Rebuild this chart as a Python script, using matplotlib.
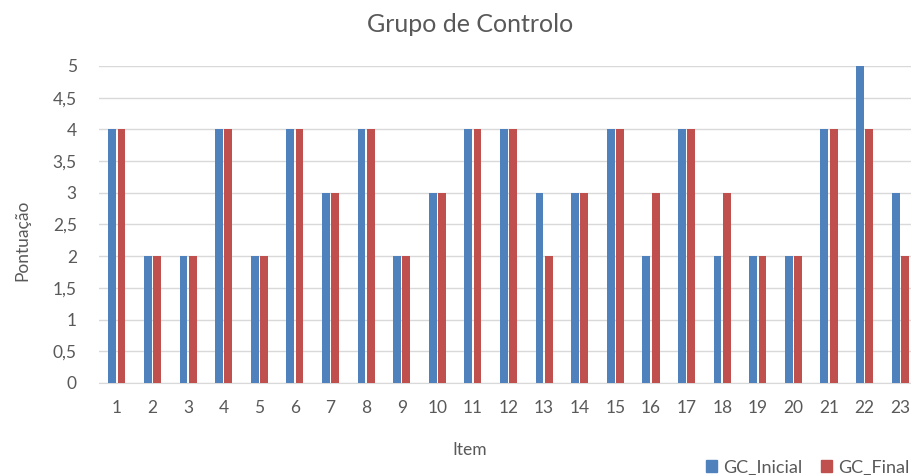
import numpy as np
import matplotlib.pyplot as plt
from matplotlib.patches import Patch

items = np.arange(1, 24)
gc_inicial = [4, 2, 2, 4, 2, 4, 3, 4, 2, 3, 4, 4, 3, 3, 4, 2, 4, 2, 2, 2, 4, 5, 3]
gc_final = [4, 2, 2, 4, 2, 4, 3, 4, 2, 3, 4, 4, 2, 3, 4, 3, 4, 3, 2, 2, 4, 4, 2]
yticks = [0, 0.5, 1, 1.5, 2, 2.5, 3, 3.5, 4, 4.5, 5]
ytick_labels = ["0", "0,5", "1", "1,5", "2", "2,5", "3", "3,5", "4", "4,5", "5"]

blue = "#4F81BD"
red = "#C0504D"
txt = "#595959"

plt.rcParams['font.family'] = ['Lato', 'DejaVu Sans']

fig = plt.figure(figsize=(9.12, 4.75), dpi=100)
ax = fig.add_axes([0.1086, 0.1937, 0.8914, 0.6674])

w = 0.22
ax.bar(items - 0.13, gc_inicial, width=w, color=blue, zorder=3)
ax.bar(items + 0.13, gc_final, width=w, color=red, zorder=3)

ax.set_xlim(0.5, 23.33)
ax.set_ylim(0, 5)
ax.set_yticks(yticks)
ax.set_yticklabels(ytick_labels)
ax.set_xticks(items)
ax.set_xticklabels([str(i) for i in items])
ax.yaxis.grid(True, color="#D9D9D9", linewidth=1, zorder=0)
for s in ["top", "right", "left"]:
    ax.spines[s].set_visible(False)
ax.spines["bottom"].set_color("#D9D9D9")
ax.tick_params(axis="both", length=0, labelsize=12.5, colors=txt)
ax.tick_params(axis="x", pad=12)
ax.tick_params(axis="y", pad=16)

ax.set_ylabel("Pontuação", fontsize=12.5, color=txt)
ax.yaxis.set_label_coords(-(99 - 30) / 813, 0.45)
ax.set_xlabel("Item", fontsize=12.5, color=txt)
ax.xaxis.set_label_coords((470 - 99) / 813, -0.185)

fig.text(470 / 912, 1 - 25 / 475, "Grupo de Controlo", ha="center", va="center",
         fontsize=18, color=txt)

handles = [Patch(color=blue, label="GC_Inicial"), Patch(color=red, label="GC_Final")]
fig.legend(handles=handles, loc="lower left", bbox_to_anchor=(690 / 912, -0.035),
           ncol=2, frameon=False, fontsize=13, handlelength=0.6, handleheight=0.6,
           handletextpad=0.35, columnspacing=1.0, labelcolor=txt)

fig.savefig("out.png", dpi=100)
